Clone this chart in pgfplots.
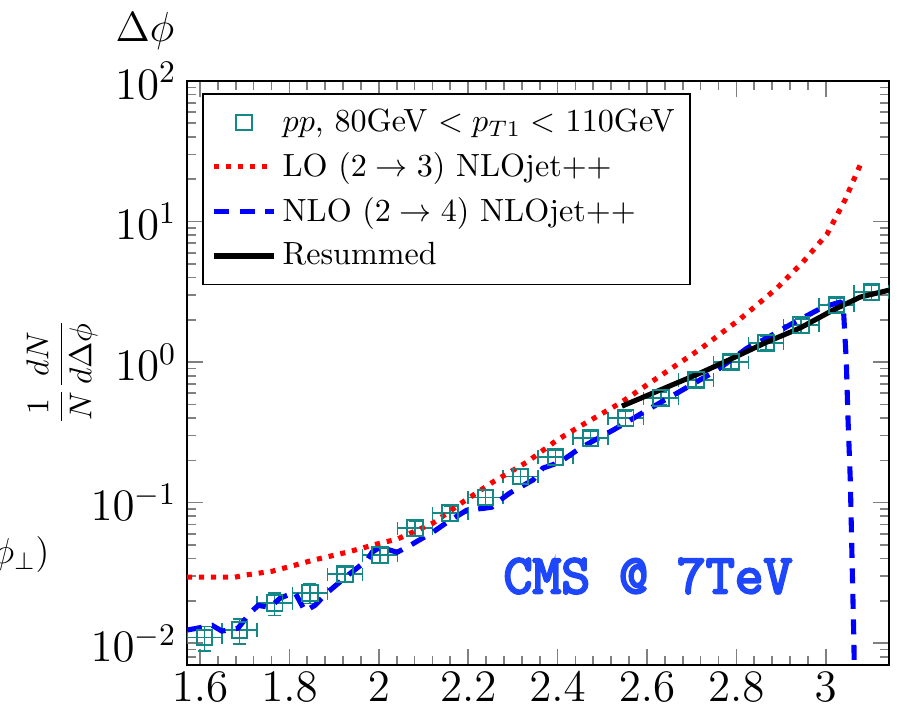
\RequirePackage{fix-cm}
\documentclass[border=0pt]{standalone}
\usepackage{fontspec}
\usepackage{pgfplots}
\usepackage{pgfplotstable}
\pgfplotsset{compat=1.18}
\newfontfamily\cmsfont{Latin Modern Mono}[FakeBold=4]
\definecolor{cmsblue}{RGB}{30,70,250}
\definecolor{dteal}{RGB}{20,135,135}

\pgfplotstableread{
x y ex ey
1.6101 0.0110 0.0393 0.0022
1.6886 0.0124 0.0393 0.0025
1.7671 0.0193 0.0393 0.0035
1.8457 0.0227 0.0393 0.0036
1.9242 0.0310 0.0393 0.0040
2.0028 0.0423 0.0393 0.0050
2.0813 0.0659 0.0393 0.0080
2.1598 0.0842 0.0393 0.0100
2.2384 0.1090 0.0393 0.0130
2.3169 0.1540 0.0393 0.0180
2.3955 0.2110 0.0393 0.0250
2.4740 0.2880 0.0393 0.0330
2.5525 0.3990 0.0393 0.0450
2.6311 0.5540 0.0393 0.0600
2.7096 0.7450 0.0393 0.0800
2.7882 1.0000 0.0393 0.1100
2.8667 1.3650 0.0393 0.1500
2.9452 1.8300 0.0393 0.2000
3.0238 2.5500 0.0393 0.2800
3.1023 3.1500 0.0393 0.3500
}\datatab

\pgfplotstableread{
x y
1.5708 0.0295
1.6780 0.0295
1.7000 0.0305
1.7610 0.0325
1.8120 0.0359
1.8530 0.0390
1.9290 0.0444
2.0030 0.0515
2.0410 0.0550
2.1210 0.0715
2.1880 0.1010
2.2550 0.1400
2.3310 0.1940
2.3990 0.2790
2.4430 0.3390
2.5400 0.5110
2.6290 0.7950
2.7190 1.2370
2.8080 2.0200
2.8910 3.3600
2.9490 5.1500
3.0030 8.1500
3.0430 14.200
3.0770 25.200
}\lotab

\pgfplotstableread{
x y
1.5708 0.0124
1.6270 0.0134
1.6490 0.0122
1.6850 0.0128
1.7120 0.0164
1.7300 0.0186
1.7560 0.0180
1.7790 0.0209
1.8120 0.0231
1.8350 0.0169
1.8570 0.0186
1.8860 0.0231
1.9310 0.0305
1.9740 0.0390
1.9850 0.0444
2.0030 0.0482
2.0410 0.0444
2.0630 0.0482
2.1210 0.0617
2.1530 0.0726
2.1970 0.0885
2.2380 0.0914
2.2530 0.0929
2.2710 0.1040
2.2930 0.1170
2.3450 0.1450
2.3670 0.1760
2.4050 0.1940
2.4500 0.2440
2.5240 0.3280
2.5550 0.3740
2.6000 0.4550
2.6670 0.6010
2.7570 0.8770
2.8240 1.2580
2.8680 1.4820
2.9270 1.8950
2.9940 2.4600
3.0320 2.6700
3.0390 2.6000
3.0460 1.0300
3.0500 0.3870
3.0550 0.1450
3.0590 0.0390
3.0630 0.0105
3.0650 0.0039
}\nlotab

\pgfplotstableread{
x y
2.5440 0.486
2.6290 0.632
2.7190 0.835
2.7920 1.067
2.8680 1.387
2.9420 1.745
3.0160 2.340
3.0770 2.900
3.1416 3.250
}\restab

\begin{document}
\begin{tikzpicture}
\begin{axis}[
  at={(0,0)}, anchor=south west,
  scale only axis, width=234pt, height=194.67pt,
  xmin=1.570796, xmax=3.141593,
  ymode=log, ymin=0.007, ymax=100,
  xtick={1.6,1.8,2,2.2,2.4,2.6,2.8,3},
  minor x tick num=4,
  axis line style={line width=0.7pt},
  tick style={gray, line width=0.55pt},
  major tick length=5.3pt, minor tick length=3.1pt,
  tick label style={font=\fontsize{15}{18}\selectfont},
  xticklabel style={yshift=1.2pt},
  legend image code/.code={\draw[mark repeat=2,mark phase=2,#1] plot coordinates {(0cm,0cm) (0.35cm,0cm) (0.7cm,0cm)};},
  legend cell align=left,
  legend style={at={(axis description cs:0,1)}, anchor=north west, xshift=5pt, yshift=-4pt,
    font=\fontsize{10.7}{13}\selectfont, draw=black, line width=0.55pt,
    inner xsep=3pt, inner ysep=3pt, row sep=1.5pt},
]
\addplot[only marks, mark=square, mark size=2.6pt, mark options={draw=dteal, line width=0.65pt, fill=none},
  error bars/.cd, x dir=both, x explicit, y dir=both, y explicit,
  error bar style={dteal, line width=0.5pt},
  error mark options={rotate=90, mark size=2.2pt, dteal, line width=0.5pt}]
  table[x=x, y=y, x error=ex, y error=ey] {\datatab};
\addlegendentry{$pp$, 80GeV $<p_{T1}<$ 110GeV\hspace{8pt}}
\addplot[red, line width=1.7pt, dash pattern=on 1.7pt off 2.3pt] table[x=x,y=y] {\lotab};
\addlegendentry{LO $(2\rightarrow 3)$ NLOjet++}
\addplot[blue, line width=1.7pt, dash pattern=on 5pt off 3.5pt] table[x=x,y=y] {\nlotab};
\addlegendentry{NLO $(2\rightarrow 4)$ NLOjet++}
\addplot[black, line width=1.7pt] table[x=x,y=y] {\restab};
\addlegendentry{Resummed}
\end{axis}
\node[anchor=base west, inner sep=0, font=\fontsize{14}{16}\selectfont] at (-24pt,207.67pt) {$\Delta\phi$};
\node[anchor=base east, inner sep=0, font=\fontsize{12}{14}\selectfont] at (-45.67pt,33.67pt) {$\phi_\perp)$};
\node[rotate=90, inner sep=0, font=\fontsize{10.5}{13}\selectfont] at (-41.67pt,97.67pt) {$\displaystyle\frac{1}{N}\frac{dN}{d\Delta\phi}$};
\node[inner sep=0, text=cmsblue, font=\cmsfont\fontsize{18.7}{22}\selectfont] at (153.67pt,29.67pt) {CMS @ 7TeV};
\pgfresetboundingbox
\useasboundingbox (-62.33pt,-15.67pt) rectangle (237.67pt,221.67pt);
\end{tikzpicture}
\end{document}
